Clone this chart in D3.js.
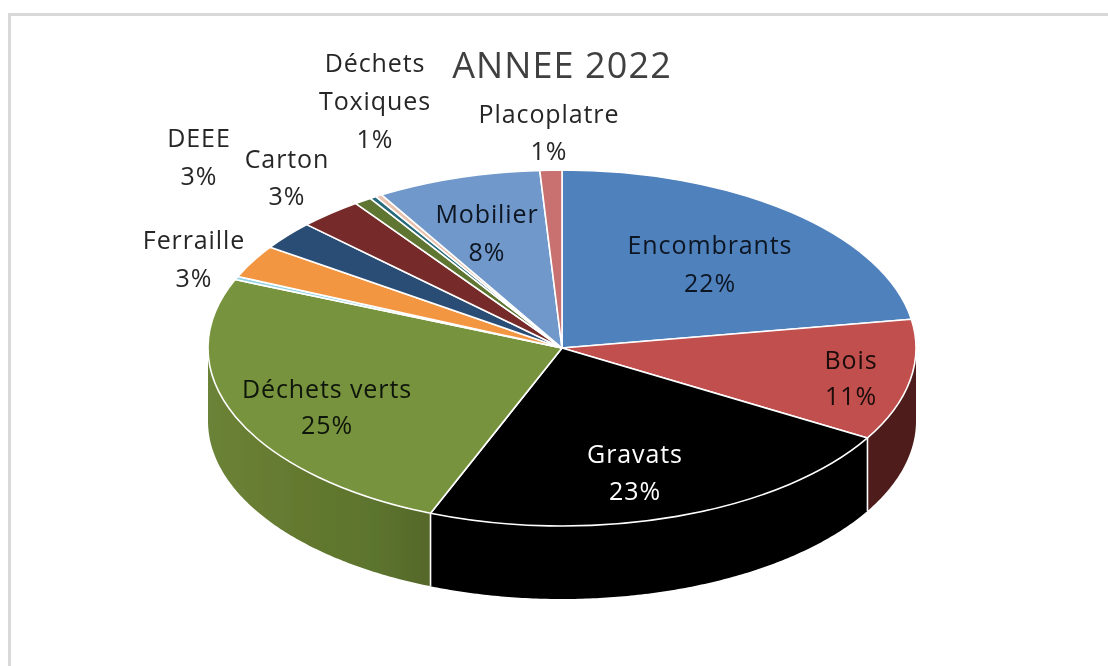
<!DOCTYPE html>
<html>
<head>
<meta charset="utf-8">
<script src="https://cdn.jsdelivr.net/npm/d3@7"></script>
<style>
html,body{margin:0;padding:0;background:#fff;overflow:hidden}
svg{display:block}
text{font-family:"Open Sans",Lato,sans-serif}
</style>
</head>
<body>
<svg id="c" width="1108" height="666"></svg>
<script>
const title = "ANNEE 2022";
const categories = ["Encombrants","Bois","Gravats","Déchets verts","Autres","Ferraille","Carton","DEEE","Divers 1","Divers 2","Déchets Toxiques","Mobilier","Placoplatre"];
const shares = [22.4,11,22.6,25.2,0.3,3.0,2.6,2.9,0.8,0.3,0.3,7.5,1];
const sliceColors = ["#4f81bd","#c0504d","#000000","#77933c","#93d2e4","#f39643","#2c4d75","#772c2a","#5f7530","#276a7c","#e8c0ae","#7098ca","#c96f6f"];
const wallColors = ["#3a5f8c","#4f1f1e","#000000","url(#greenWall)","#6c9eaa","#b36d30","#203856","#571f1e","#46561f","#1c4e5b","#aa8c80","#5170a0","#934f4f"];

const labelNames = [["Encombrants"],["Bois"],["Gravats"],["Déchets verts"],["Ferraille"],["DEEE"],["Carton"],["Déchets","Toxiques"],["Placoplatre"],["Mobilier"]];
const labelPercents = ["22%","11%","23%","25%","3%","3%","3%","1%","1%","8%"];
const labelColors = ["#0c1520","#1a0a0a","#ffffff","#10150a","#262626","#262626","#262626","#262626","#262626","#0c1520"];
const labelAnchorsX = [710,851,635,327,194,199,287,375,549,487];
const labelFirstBaseline = [254,369,463,398,249,147,168,72,123,223];
const lineSteps = [38,36,37,36,38,38,37,38,37,38];

const cx = 562, cy = 348, rx = 354, ry = 178, depth = 73;
const svg = d3.select("#c");
const defs = svg.append("defs");
const grad = defs.append("linearGradient").attr("id","greenWall").attr("gradientUnits","userSpaceOnUse")
  .attr("x1",208).attr("x2",431).attr("y1",0).attr("y2",0);
[[0,"#6b8337"],[0.4,"#64792f"],[0.75,"#5c742e"],[1,"#55672a"]].forEach(s=>grad.append("stop").attr("offset",s[0]).attr("stop-color",s[1]));
defs.append("filter").attr("id","soft").attr("x","-5%").attr("y","-5%").attr("width","110%").attr("height","110%")
  .append("feGaussianBlur").attr("stdDeviation",0.45);

svg.append("rect").attr("width",1108).attr("height",666).attr("fill","#fff");
const root = svg.append("g").attr("filter","url(#soft)");
root.append("rect").attr("x",8).attr("y",13).attr("width",1100).attr("height",3).attr("fill","#d9d9d9");
root.append("rect").attr("x",8).attr("y",13).attr("width",3).attr("height",653).attr("fill","#d9d9d9");

const pie = d3.pie().sort(null).value(d=>d)(shares);
const px = a => cx + rx*Math.sin(a), py = a => cy - ry*Math.cos(a);
const lineGen = d3.line();

// side walls (only the front half of the disc is visible)
const walls = root.append("g");
pie.forEach((p,i)=>{
  const a0 = Math.max(p.startAngle, Math.PI/2), a1 = Math.min(p.endAngle, 3*Math.PI/2);
  if (a1 <= a0) return;
  const n = Math.max(2, Math.ceil((a1-a0)/0.01));
  const angles = d3.range(n+1).map(k => a0 + (a1-a0)*k/n);
  const top = angles.map(a=>[px(a),py(a)]);
  const bot = angles.slice().reverse().map(a=>[px(a),py(a)+depth]);
  walls.append("path").attr("d",lineGen(top.concat(bot))+"Z").attr("fill",wallColors[i]);
});
// white separators on the wall
pie.forEach(p=>{
  const a = p.endAngle;
  if (a > Math.PI/2 && a < 3*Math.PI/2) {
    walls.append("line").attr("x1",px(a)).attr("x2",px(a)).attr("y1",py(a)).attr("y2",py(a)+depth)
      .attr("stroke","#fff").attr("stroke-width",1.6);
  }
});

// top face
const arc = d3.arc().innerRadius(0).outerRadius(rx);
const topFace = root.append("g").attr("transform",`translate(${cx},${cy}) scale(1,${ry/rx})`);
topFace.selectAll("path").data(pie).join("path")
  .attr("d",arc)
  .attr("fill",(d,i)=>sliceColors[i])
  .attr("stroke","#fff").attr("stroke-width",1.6)
  .attr("stroke-linejoin","round")
  .attr("vector-effect","non-scaling-stroke");

// labels
const labels = root.append("g").attr("text-anchor","middle").attr("font-size",25).attr("letter-spacing",0.9);
labelNames.forEach((lines,i)=>{
  lines.concat([labelPercents[i]]).forEach((t,k)=>{
    labels.append("text").attr("x",labelAnchorsX[i]).attr("y",labelFirstBaseline[i]+k*lineSteps[i])
      .attr("fill",labelColors[i]).text(t);
  });
});
root.append("text").attr("x",562).attr("y",78).attr("text-anchor","middle").attr("font-size",36)
  .attr("letter-spacing",1.1).attr("fill","#404040").text(title);
</script>
</body>
</html>
